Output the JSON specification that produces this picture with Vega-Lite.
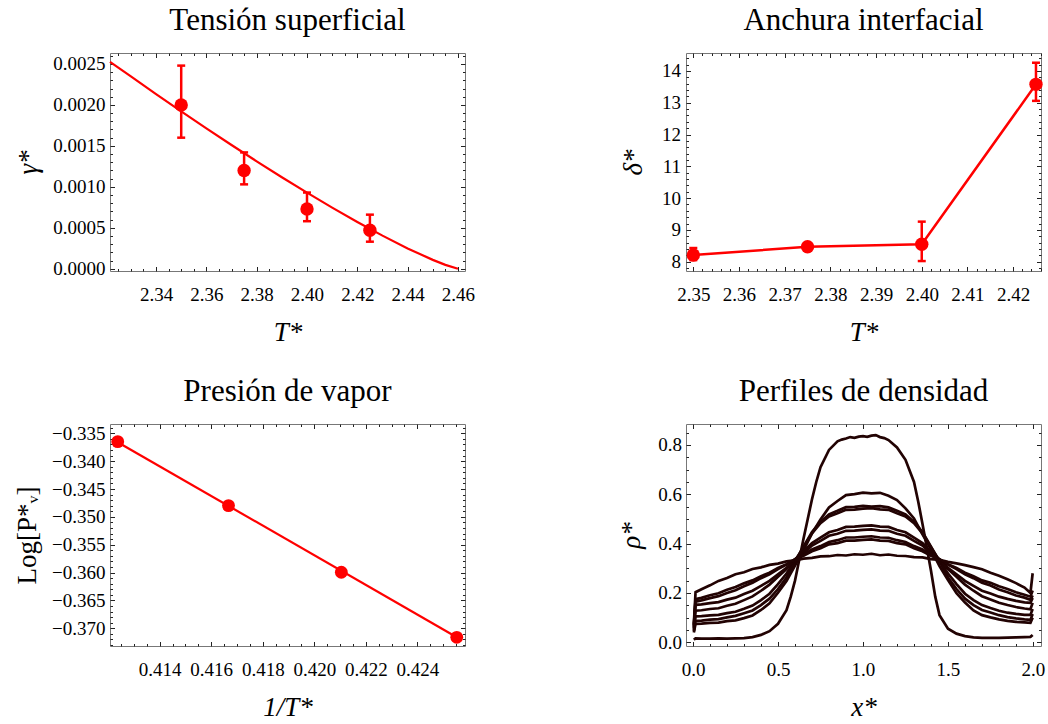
{
"$schema": "https://vega.github.io/schema/vega-lite/v6.json",
"background": "white",
"padding": {"left": 13, "top": 4, "right": 0, "bottom": 0},
"config": {
 "font": "Liberation Serif",
 "view": {"stroke": "#777777", "strokeWidth": 1},
 "title": {"font": "Liberation Serif", "fontSize": 31, "fontWeight": "normal", "color": "#000000", "baseline": "alphabetic", "offset": 16, "frame": "group", "anchor": "middle"},
 "axis": {"labelFont": "Liberation Serif", "labelFontSize": 19, "labelColor": "#000000", "titleFont": "Liberation Serif", "titleFontSize": 27, "titleFontWeight": "normal", "titleColor": "#000000", "tickColor": "#222222", "tickWidth": 1, "domain": false, "grid": false, "labelFlush": false, "labelOverlap": false, "labelExpr": "replace(datum.label, '-', '\u2212')"}
},
"datasets": {
 "gamma": [
  {"T": 2.35, "g": 0.002, "lo": 0.0016, "hi": 0.00248},
  {"T": 2.375, "g": 0.0012, "lo": 0.00103, "hi": 0.00142},
  {"T": 2.4, "g": 0.00073, "lo": 0.00058, "hi": 0.00093},
  {"T": 2.425, "g": 0.00047, "lo": 0.00033, "hi": 0.00066}
 ],
 "gfit": [
  {"T": 2.3217, "g": 0.002525}, {"T": 2.33, "g": 0.002348}, {"T": 2.34, "g": 0.002133}, {"T": 2.35, "g": 0.001921},
  {"T": 2.36, "g": 0.001714}, {"T": 2.37, "g": 0.001511}, {"T": 2.38, "g": 0.001311}, {"T": 2.39, "g": 0.001117},
  {"T": 2.4, "g": 0.000929}, {"T": 2.41, "g": 0.000746}, {"T": 2.42, "g": 0.000571}, {"T": 2.43, "g": 0.000404},
  {"T": 2.44, "g": 0.000248}, {"T": 2.45, "g": 0.000108}, {"T": 2.455, "g": 0.000047}, {"T": 2.46, "g": 0.0}
 ],
 "delta": [
  {"T": 2.35, "d": 8.21}, {"T": 2.375, "d": 8.47}, {"T": 2.4, "d": 8.55}, {"T": 2.425, "d": 13.58}
 ],
 "derr": [
  {"T": 2.35, "lo": 8.05, "hi": 8.43}, {"T": 2.4, "lo": 8.02, "hi": 9.26}, {"T": 2.425, "lo": 13.06, "hi": 14.26}
 ],
 "pv": [
  {"x": 0.41237, "y": -0.3365}, {"x": 0.41667, "y": -0.34798}, {"x": 0.42105, "y": -0.35995}, {"x": 0.42553, "y": -0.37162}
 ],
 "pvfit": [
  {"x": 0.41237, "y": -0.3366}, {"x": 0.42553, "y": -0.3716}
 ],
 "rho": [
  {"c":1,"x":0.005,"y":0.010},{"c":1,"x":0.015,"y":0.016},{"c":1,"x":0.05,"y":0.015},{"c":1,"x":0.1,"y":0.015},{"c":1,"x":0.15,"y":0.016},{"c":1,"x":0.2,"y":0.015},{"c":1,"x":0.25,"y":0.016},{"c":1,"x":0.3,"y":0.017},{"c":1,"x":0.35,"y":0.021},{"c":1,"x":0.4,"y":0.03},{"c":1,"x":0.45,"y":0.045},{"c":1,"x":0.5,"y":0.075},{"c":1,"x":0.55,"y":0.13},{"c":1,"x":0.575,"y":0.185},{"c":1,"x":0.6,"y":0.25},{"c":1,"x":0.625,"y":0.335},{"c":1,"x":0.65,"y":0.42},{"c":1,"x":0.675,"y":0.5},{"c":1,"x":0.7,"y":0.58},{"c":1,"x":0.725,"y":0.65},{"c":1,"x":0.75,"y":0.71},{"c":1,"x":0.8,"y":0.78},{"c":1,"x":0.85,"y":0.815},{"c":1,"x":0.875,"y":0.822},{"c":1,"x":0.9,"y":0.826},{"c":1,"x":0.925,"y":0.832},{"c":1,"x":0.95,"y":0.829},{"c":1,"x":0.975,"y":0.834},{"c":1,"x":1.0,"y":0.836},{"c":1,"x":1.025,"y":0.833},{"c":1,"x":1.05,"y":0.838},{"c":1,"x":1.075,"y":0.84},{"c":1,"x":1.1,"y":0.832},{"c":1,"x":1.125,"y":0.828},{"c":1,"x":1.15,"y":0.82},{"c":1,"x":1.2,"y":0.79},{"c":1,"x":1.25,"y":0.74},{"c":1,"x":1.3,"y":0.65},{"c":1,"x":1.325,"y":0.57},{"c":1,"x":1.35,"y":0.48},{"c":1,"x":1.375,"y":0.385},{"c":1,"x":1.4,"y":0.29},{"c":1,"x":1.425,"y":0.185},{"c":1,"x":1.45,"y":0.11},{"c":1,"x":1.5,"y":0.055},{"c":1,"x":1.55,"y":0.035},{"c":1,"x":1.6,"y":0.025},{"c":1,"x":1.65,"y":0.02},{"c":1,"x":1.7,"y":0.018},{"c":1,"x":1.75,"y":0.018},{"c":1,"x":1.8,"y":0.018},{"c":1,"x":1.85,"y":0.019},{"c":1,"x":1.9,"y":0.02},{"c":1,"x":1.95,"y":0.021},{"c":1,"x":1.985,"y":0.022},{"c":1,"x":1.998,"y":0.03},
  {"c":2,"x":0.005,"y":0.04},{"c":2,"x":0.015,"y":0.075},{"c":2,"x":0.05,"y":0.076},{"c":2,"x":0.1,"y":0.079},{"c":2,"x":0.15,"y":0.08},{"c":2,"x":0.2,"y":0.086},{"c":2,"x":0.25,"y":0.089},{"c":2,"x":0.3,"y":0.098},{"c":2,"x":0.35,"y":0.109},{"c":2,"x":0.4,"y":0.131},{"c":2,"x":0.45,"y":0.158},{"c":2,"x":0.5,"y":0.201},{"c":2,"x":0.55,"y":0.248},{"c":2,"x":0.6,"y":0.311},{"c":2,"x":0.65,"y":0.373},{"c":2,"x":0.7,"y":0.442},{"c":2,"x":0.75,"y":0.498},{"c":2,"x":0.8,"y":0.547},{"c":2,"x":0.85,"y":0.573},{"c":2,"x":0.9,"y":0.597},{"c":2,"x":0.95,"y":0.601},{"c":2,"x":1.0,"y":0.607},{"c":2,"x":1.05,"y":0.604},{"c":2,"x":1.1,"y":0.606},{"c":2,"x":1.15,"y":0.594},{"c":2,"x":1.2,"y":0.577},{"c":2,"x":1.25,"y":0.543},{"c":2,"x":1.3,"y":0.502},{"c":2,"x":1.35,"y":0.438},{"c":2,"x":1.4,"y":0.377},{"c":2,"x":1.45,"y":0.309},{"c":2,"x":1.5,"y":0.252},{"c":2,"x":1.55,"y":0.199},{"c":2,"x":1.6,"y":0.161},{"c":2,"x":1.65,"y":0.129},{"c":2,"x":1.7,"y":0.11},{"c":2,"x":1.75,"y":0.101},{"c":2,"x":1.8,"y":0.093},{"c":2,"x":1.85,"y":0.087},{"c":2,"x":1.9,"y":0.083},{"c":2,"x":1.95,"y":0.081},{"c":2,"x":1.985,"y":0.079},{"c":2,"x":1.998,"y":0.1},
  {"c":3,"x":0.005,"y":0.045},{"c":3,"x":0.015,"y":0.087},{"c":3,"x":0.05,"y":0.088},{"c":3,"x":0.1,"y":0.092},{"c":3,"x":0.15,"y":0.094},{"c":3,"x":0.2,"y":0.101},{"c":3,"x":0.25,"y":0.107},{"c":3,"x":0.3,"y":0.118},{"c":3,"x":0.35,"y":0.129},{"c":3,"x":0.4,"y":0.151},{"c":3,"x":0.45,"y":0.177},{"c":3,"x":0.5,"y":0.216},{"c":3,"x":0.55,"y":0.263},{"c":3,"x":0.6,"y":0.327},{"c":3,"x":0.65,"y":0.388},{"c":3,"x":0.7,"y":0.447},{"c":3,"x":0.75,"y":0.488},{"c":3,"x":0.8,"y":0.519},{"c":3,"x":0.85,"y":0.533},{"c":3,"x":0.9,"y":0.548},{"c":3,"x":0.95,"y":0.549},{"c":3,"x":1.0,"y":0.553},{"c":3,"x":1.05,"y":0.55},{"c":3,"x":1.1,"y":0.552},{"c":3,"x":1.15,"y":0.547},{"c":3,"x":1.2,"y":0.533},{"c":3,"x":1.25,"y":0.519},{"c":3,"x":1.3,"y":0.488},{"c":3,"x":1.35,"y":0.447},{"c":3,"x":1.4,"y":0.388},{"c":3,"x":1.45,"y":0.327},{"c":3,"x":1.5,"y":0.263},{"c":3,"x":1.55,"y":0.216},{"c":3,"x":1.6,"y":0.177},{"c":3,"x":1.65,"y":0.151},{"c":3,"x":1.7,"y":0.131},{"c":3,"x":1.75,"y":0.121},{"c":3,"x":1.8,"y":0.11},{"c":3,"x":1.85,"y":0.102},{"c":3,"x":1.9,"y":0.097},{"c":3,"x":1.95,"y":0.093},{"c":3,"x":1.985,"y":0.091},{"c":3,"x":1.998,"y":0.115},
  {"c":4,"x":0.005,"y":0.05},{"c":4,"x":0.015,"y":0.105},{"c":4,"x":0.05,"y":0.106},{"c":4,"x":0.1,"y":0.109},{"c":4,"x":0.15,"y":0.111},{"c":4,"x":0.2,"y":0.118},{"c":4,"x":0.25,"y":0.124},{"c":4,"x":0.3,"y":0.136},{"c":4,"x":0.35,"y":0.149},{"c":4,"x":0.4,"y":0.171},{"c":4,"x":0.45,"y":0.197},{"c":4,"x":0.5,"y":0.236},{"c":4,"x":0.55,"y":0.279},{"c":4,"x":0.6,"y":0.331},{"c":4,"x":0.65,"y":0.386},{"c":4,"x":0.7,"y":0.442},{"c":4,"x":0.75,"y":0.483},{"c":4,"x":0.8,"y":0.51},{"c":4,"x":0.85,"y":0.523},{"c":4,"x":0.9,"y":0.537},{"c":4,"x":0.95,"y":0.538},{"c":4,"x":1.0,"y":0.542},{"c":4,"x":1.05,"y":0.544},{"c":4,"x":1.1,"y":0.539},{"c":4,"x":1.15,"y":0.537},{"c":4,"x":1.2,"y":0.523},{"c":4,"x":1.25,"y":0.51},{"c":4,"x":1.3,"y":0.483},{"c":4,"x":1.35,"y":0.442},{"c":4,"x":1.4,"y":0.386},{"c":4,"x":1.45,"y":0.331},{"c":4,"x":1.5,"y":0.279},{"c":4,"x":1.55,"y":0.236},{"c":4,"x":1.6,"y":0.197},{"c":4,"x":1.65,"y":0.171},{"c":4,"x":1.7,"y":0.151},{"c":4,"x":1.75,"y":0.139},{"c":4,"x":1.8,"y":0.128},{"c":4,"x":1.85,"y":0.12},{"c":4,"x":1.9,"y":0.115},{"c":4,"x":1.95,"y":0.111},{"c":4,"x":1.985,"y":0.111},{"c":4,"x":1.998,"y":0.135},
  {"c":5,"x":0.005,"y":0.055},{"c":5,"x":0.015,"y":0.128},{"c":5,"x":0.05,"y":0.13},{"c":5,"x":0.1,"y":0.135},{"c":5,"x":0.15,"y":0.138},{"c":5,"x":0.2,"y":0.148},{"c":5,"x":0.25,"y":0.156},{"c":5,"x":0.3,"y":0.171},{"c":5,"x":0.35,"y":0.186},{"c":5,"x":0.4,"y":0.209},{"c":5,"x":0.45,"y":0.234},{"c":5,"x":0.5,"y":0.266},{"c":5,"x":0.55,"y":0.297},{"c":5,"x":0.6,"y":0.336},{"c":5,"x":0.65,"y":0.368},{"c":5,"x":0.7,"y":0.402},{"c":5,"x":0.75,"y":0.424},{"c":5,"x":0.8,"y":0.446},{"c":5,"x":0.85,"y":0.455},{"c":5,"x":0.9,"y":0.468},{"c":5,"x":0.95,"y":0.469},{"c":5,"x":1.0,"y":0.472},{"c":5,"x":1.05,"y":0.474},{"c":5,"x":1.1,"y":0.469},{"c":5,"x":1.15,"y":0.468},{"c":5,"x":1.2,"y":0.455},{"c":5,"x":1.25,"y":0.446},{"c":5,"x":1.3,"y":0.424},{"c":5,"x":1.35,"y":0.402},{"c":5,"x":1.4,"y":0.368},{"c":5,"x":1.45,"y":0.336},{"c":5,"x":1.5,"y":0.297},{"c":5,"x":1.55,"y":0.266},{"c":5,"x":1.6,"y":0.234},{"c":5,"x":1.65,"y":0.209},{"c":5,"x":1.7,"y":0.187},{"c":5,"x":1.75,"y":0.174},{"c":5,"x":1.8,"y":0.16},{"c":5,"x":1.85,"y":0.151},{"c":5,"x":1.9,"y":0.143},{"c":5,"x":1.95,"y":0.137},{"c":5,"x":1.985,"y":0.134},{"c":5,"x":1.998,"y":0.16},
  {"c":6,"x":0.005,"y":0.06},{"c":6,"x":0.015,"y":0.152},{"c":6,"x":0.05,"y":0.154},{"c":6,"x":0.1,"y":0.159},{"c":6,"x":0.15,"y":0.163},{"c":6,"x":0.2,"y":0.173},{"c":6,"x":0.25,"y":0.181},{"c":6,"x":0.3,"y":0.196},{"c":6,"x":0.35,"y":0.209},{"c":6,"x":0.4,"y":0.229},{"c":6,"x":0.45,"y":0.249},{"c":6,"x":0.5,"y":0.276},{"c":6,"x":0.55,"y":0.302},{"c":6,"x":0.6,"y":0.334},{"c":6,"x":0.65,"y":0.36},{"c":6,"x":0.7,"y":0.392},{"c":6,"x":0.75,"y":0.411},{"c":6,"x":0.8,"y":0.432},{"c":6,"x":0.85,"y":0.44},{"c":6,"x":0.9,"y":0.452},{"c":6,"x":0.95,"y":0.453},{"c":6,"x":1.0,"y":0.456},{"c":6,"x":1.05,"y":0.458},{"c":6,"x":1.1,"y":0.453},{"c":6,"x":1.15,"y":0.452},{"c":6,"x":1.2,"y":0.44},{"c":6,"x":1.25,"y":0.432},{"c":6,"x":1.3,"y":0.411},{"c":6,"x":1.35,"y":0.392},{"c":6,"x":1.4,"y":0.36},{"c":6,"x":1.45,"y":0.334},{"c":6,"x":1.5,"y":0.302},{"c":6,"x":1.55,"y":0.276},{"c":6,"x":1.6,"y":0.249},{"c":6,"x":1.65,"y":0.229},{"c":6,"x":1.7,"y":0.209},{"c":6,"x":1.75,"y":0.198},{"c":6,"x":1.8,"y":0.185},{"c":6,"x":1.85,"y":0.176},{"c":6,"x":1.9,"y":0.168},{"c":6,"x":1.95,"y":0.162},{"c":6,"x":1.985,"y":0.16},{"c":6,"x":1.998,"y":0.18},
  {"c":7,"x":0.005,"y":0.065},{"c":7,"x":0.015,"y":0.165},{"c":7,"x":0.05,"y":0.17},{"c":7,"x":0.1,"y":0.179},{"c":7,"x":0.15,"y":0.187},{"c":7,"x":0.2,"y":0.2},{"c":7,"x":0.25,"y":0.211},{"c":7,"x":0.3,"y":0.227},{"c":7,"x":0.35,"y":0.241},{"c":7,"x":0.4,"y":0.26},{"c":7,"x":0.45,"y":0.276},{"c":7,"x":0.5,"y":0.297},{"c":7,"x":0.55,"y":0.315},{"c":7,"x":0.6,"y":0.337},{"c":7,"x":0.65,"y":0.355},{"c":7,"x":0.7,"y":0.376},{"c":7,"x":0.75,"y":0.39},{"c":7,"x":0.8,"y":0.407},{"c":7,"x":0.85,"y":0.414},{"c":7,"x":0.9,"y":0.425},{"c":7,"x":0.95,"y":0.425},{"c":7,"x":1.0,"y":0.428},{"c":7,"x":1.05,"y":0.43},{"c":7,"x":1.1,"y":0.425},{"c":7,"x":1.15,"y":0.424},{"c":7,"x":1.2,"y":0.414},{"c":7,"x":1.25,"y":0.407},{"c":7,"x":1.3,"y":0.39},{"c":7,"x":1.35,"y":0.376},{"c":7,"x":1.4,"y":0.355},{"c":7,"x":1.45,"y":0.337},{"c":7,"x":1.5,"y":0.315},{"c":7,"x":1.55,"y":0.297},{"c":7,"x":1.6,"y":0.276},{"c":7,"x":1.65,"y":0.26},{"c":7,"x":1.7,"y":0.241},{"c":7,"x":1.75,"y":0.23},{"c":7,"x":1.8,"y":0.214},{"c":7,"x":1.85,"y":0.203},{"c":7,"x":1.9,"y":0.19},{"c":7,"x":1.95,"y":0.181},{"c":7,"x":1.985,"y":0.172},{"c":7,"x":1.998,"y":0.19},
  {"c":8,"x":0.005,"y":0.07},{"c":8,"x":0.015,"y":0.175},{"c":8,"x":0.05,"y":0.18},{"c":8,"x":0.1,"y":0.191},{"c":8,"x":0.15,"y":0.199},{"c":8,"x":0.2,"y":0.213},{"c":8,"x":0.25,"y":0.224},{"c":8,"x":0.3,"y":0.239},{"c":8,"x":0.35,"y":0.251},{"c":8,"x":0.4,"y":0.268},{"c":8,"x":0.45,"y":0.282},{"c":8,"x":0.5,"y":0.301},{"c":8,"x":0.55,"y":0.317},{"c":8,"x":0.6,"y":0.336},{"c":8,"x":0.65,"y":0.351},{"c":8,"x":0.7,"y":0.369},{"c":8,"x":0.75,"y":0.381},{"c":8,"x":0.8,"y":0.397},{"c":8,"x":0.85,"y":0.402},{"c":8,"x":0.9,"y":0.412},{"c":8,"x":0.95,"y":0.412},{"c":8,"x":1.0,"y":0.415},{"c":8,"x":1.05,"y":0.417},{"c":8,"x":1.1,"y":0.412},{"c":8,"x":1.15,"y":0.411},{"c":8,"x":1.2,"y":0.402},{"c":8,"x":1.25,"y":0.397},{"c":8,"x":1.3,"y":0.381},{"c":8,"x":1.35,"y":0.369},{"c":8,"x":1.4,"y":0.351},{"c":8,"x":1.45,"y":0.336},{"c":8,"x":1.5,"y":0.317},{"c":8,"x":1.55,"y":0.301},{"c":8,"x":1.6,"y":0.282},{"c":8,"x":1.65,"y":0.268},{"c":8,"x":1.7,"y":0.251},{"c":8,"x":1.75,"y":0.241},{"c":8,"x":1.8,"y":0.227},{"c":8,"x":1.85,"y":0.216},{"c":8,"x":1.9,"y":0.203},{"c":8,"x":1.95,"y":0.193},{"c":8,"x":1.985,"y":0.185},{"c":8,"x":1.998,"y":0.21},
  {"c":9,"x":0.005,"y":0.075},{"c":9,"x":0.015,"y":0.203},{"c":9,"x":0.05,"y":0.215},{"c":9,"x":0.1,"y":0.231},{"c":9,"x":0.15,"y":0.249},{"c":9,"x":0.2,"y":0.261},{"c":9,"x":0.25,"y":0.276},{"c":9,"x":0.3,"y":0.284},{"c":9,"x":0.35,"y":0.297},{"c":9,"x":0.4,"y":0.304},{"c":9,"x":0.45,"y":0.314},{"c":9,"x":0.5,"y":0.319},{"c":9,"x":0.55,"y":0.328},{"c":9,"x":0.6,"y":0.332},{"c":9,"x":0.65,"y":0.339},{"c":9,"x":0.7,"y":0.342},{"c":9,"x":0.75,"y":0.348},{"c":9,"x":0.8,"y":0.349},{"c":9,"x":0.85,"y":0.354},{"c":9,"x":0.9,"y":0.352},{"c":9,"x":0.95,"y":0.357},{"c":9,"x":1.0,"y":0.355},{"c":9,"x":1.05,"y":0.359},{"c":9,"x":1.1,"y":0.353},{"c":9,"x":1.15,"y":0.356},{"c":9,"x":1.2,"y":0.351},{"c":9,"x":1.25,"y":0.35},{"c":9,"x":1.3,"y":0.345},{"c":9,"x":1.35,"y":0.344},{"c":9,"x":1.4,"y":0.337},{"c":9,"x":1.45,"y":0.334},{"c":9,"x":1.5,"y":0.326},{"c":9,"x":1.55,"y":0.32},{"c":9,"x":1.6,"y":0.313},{"c":9,"x":1.65,"y":0.305},{"c":9,"x":1.7,"y":0.296},{"c":9,"x":1.75,"y":0.282},{"c":9,"x":1.8,"y":0.27},{"c":9,"x":1.85,"y":0.256},{"c":9,"x":1.9,"y":0.24},{"c":9,"x":1.95,"y":0.222},{"c":9,"x":1.985,"y":0.2},{"c":9,"x":1.998,"y":0.28}
 ]
},
"columns": 2,
"spacing": {"row": 153, "column": 221},
"bounds": "flush",
"concat": [
 {
  "width": 355, "height": 218,
  "title": {"text": "Tensión superficial"},
  "resolve": {"axis": {"x": "independent", "y": "independent"}},
  "layer": [
   {"data": {"name": "gfit"}, "mark": {"type": "line", "color": "#ff0000", "strokeWidth": 2.2},
    "encoding": {
     "x": {"field": "T", "type": "quantitative", "scale": {"domain": [2.3217, 2.4628], "nice": false, "zero": false},
       "axis": {"orient": "bottom", "values": [2.34, 2.36, 2.38, 2.4, 2.42, 2.44, 2.46], "format": ".2f", "tickSize": -4.5, "labelPadding": 18.5, "title": "T*", "titlePadding": 15, "titleFontStyle": "italic"}},
     "y": {"field": "g", "type": "quantitative", "scale": {"domain": [-0.000028, 0.002634], "nice": false, "zero": false},
       "axis": {"orient": "left", "values": [0, 0.0005, 0.001, 0.0015, 0.002, 0.0025], "format": ".4f", "tickSize": -4.5, "labelPadding": 9.5, "title": "γ*", "titlePadding": 10, "titleFontStyle": "italic"}}
    }},
   {"data": {"name": "gamma"}, "mark": {"type": "rule", "color": "#ff0000", "strokeWidth": 2.5},
    "encoding": {
     "x": {"field": "T", "type": "quantitative", "scale": {"domain": [2.3217, 2.4628], "nice": false, "zero": false},
       "axis": {"orient": "top", "values": [2.34, 2.36, 2.38, 2.4, 2.42, 2.44, 2.46], "tickSize": -4.5, "labels": false, "title": null}},
     "y": {"field": "lo", "type": "quantitative", "scale": {"domain": [-0.000028, 0.002634], "nice": false, "zero": false},
       "axis": {"orient": "right", "values": [0, 0.0005, 0.001, 0.0015, 0.002, 0.0025], "tickSize": -4.5, "labels": false, "title": null}},
     "y2": {"field": "hi"}
    }},
   {"data": {"name": "gamma"}, "mark": {"type": "point", "shape": "M-1,0L1,0", "filled": false, "color": "#ff0000", "strokeWidth": 2.5, "size": 64, "opacity": 1},
    "encoding": {
     "x": {"field": "T", "type": "quantitative", "scale": {"domain": [2.3217, 2.4628], "nice": false, "zero": false},
       "axis": {"orient": "bottom", "values": [2.325, 2.33, 2.335, 2.345, 2.35, 2.355, 2.365, 2.37, 2.375, 2.385, 2.39, 2.395, 2.405, 2.41, 2.415, 2.425, 2.43, 2.435, 2.445, 2.45, 2.455], "tickSize": -2.5, "labels": false, "title": null}},
     "y": {"field": "lo", "type": "quantitative", "scale": {"domain": [-0.000028, 0.002634], "nice": false, "zero": false},
       "axis": {"orient": "left", "values": [0.0001, 0.0002, 0.0003, 0.0004, 0.0006, 0.0007, 0.0008, 0.0009, 0.0011, 0.0012, 0.0013, 0.0014, 0.0016, 0.0017, 0.0018, 0.0019, 0.0021, 0.0022, 0.0023, 0.0024, 0.0026], "tickSize": -2.5, "labels": false, "title": null}}
    }},
   {"data": {"name": "gamma"}, "mark": {"type": "point", "shape": "M-1,0L1,0", "filled": false, "color": "#ff0000", "strokeWidth": 2.5, "size": 64, "opacity": 1},
    "encoding": {
     "x": {"field": "T", "type": "quantitative", "scale": {"domain": [2.3217, 2.4628], "nice": false, "zero": false},
       "axis": {"orient": "top", "values": [2.325, 2.33, 2.335, 2.345, 2.35, 2.355, 2.365, 2.37, 2.375, 2.385, 2.39, 2.395, 2.405, 2.41, 2.415, 2.425, 2.43, 2.435, 2.445, 2.45, 2.455], "tickSize": -2.5, "labels": false, "title": null}},
     "y": {"field": "hi", "type": "quantitative", "scale": {"domain": [-0.000028, 0.002634], "nice": false, "zero": false},
       "axis": {"orient": "right", "values": [0.0001, 0.0002, 0.0003, 0.0004, 0.0006, 0.0007, 0.0008, 0.0009, 0.0011, 0.0012, 0.0013, 0.0014, 0.0016, 0.0017, 0.0018, 0.0019, 0.0021, 0.0022, 0.0023, 0.0024, 0.0026], "tickSize": -2.5, "labels": false, "title": null}}
    }},
   {"data": {"name": "gamma"}, "mark": {"type": "circle", "color": "#ff0000", "size": 180, "opacity": 1},
    "encoding": {
     "x": {"field": "T", "type": "quantitative", "scale": {"domain": [2.3217, 2.4628], "nice": false, "zero": false}, "axis": null},
     "y": {"field": "g", "type": "quantitative", "scale": {"domain": [-0.000028, 0.002634], "nice": false, "zero": false}, "axis": null}
    }}
  ]
 },
 {
  "width": 355, "height": 218,
  "title": {"text": "Anchura interfacial"},
  "resolve": {"axis": {"x": "independent", "y": "independent"}},
  "layer": [
   {"data": {"name": "delta"}, "mark": {"type": "line", "color": "#ff0000", "strokeWidth": 2.5},
    "encoding": {
     "x": {"field": "T", "type": "quantitative", "scale": {"domain": [2.3484, 2.4261], "nice": false, "zero": false},
       "axis": {"orient": "bottom", "values": [2.35, 2.36, 2.37, 2.38, 2.39, 2.4, 2.41, 2.42], "format": ".2f", "tickSize": -4.5, "labelPadding": 18.5, "title": "T*", "titlePadding": 15, "titleFontStyle": "italic"}},
     "y": {"field": "d", "type": "quantitative", "scale": {"domain": [7.707, 14.566], "nice": false, "zero": false},
       "axis": {"orient": "left", "values": [8, 9, 10, 11, 12, 13, 14], "format": "d", "tickSize": -4.5, "labelPadding": 10, "title": "δ*", "titlePadding": 14, "titleFontStyle": "italic"}}
    }},
   {"data": {"name": "derr"}, "mark": {"type": "rule", "color": "#ff0000", "strokeWidth": 2.5},
    "encoding": {
     "x": {"field": "T", "type": "quantitative", "scale": {"domain": [2.3484, 2.4261], "nice": false, "zero": false},
       "axis": {"orient": "top", "values": [2.35, 2.36, 2.37, 2.38, 2.39, 2.4, 2.41, 2.42], "tickSize": -4.5, "labels": false, "title": null}},
     "y": {"field": "lo", "type": "quantitative", "scale": {"domain": [7.707, 14.566], "nice": false, "zero": false},
       "axis": {"orient": "right", "values": [8, 9, 10, 11, 12, 13, 14], "tickSize": -4.5, "labels": false, "title": null}},
     "y2": {"field": "hi"}
    }},
   {"data": {"name": "derr"}, "mark": {"type": "point", "shape": "M-1,0L1,0", "filled": false, "color": "#ff0000", "strokeWidth": 2.5, "size": 64, "opacity": 1},
    "encoding": {
     "x": {"field": "T", "type": "quantitative", "scale": {"domain": [2.3484, 2.4261], "nice": false, "zero": false},
       "axis": {"orient": "bottom", "values": [2.352, 2.354, 2.356, 2.358, 2.362, 2.364, 2.366, 2.368, 2.372, 2.374, 2.376, 2.378, 2.382, 2.384, 2.386, 2.388, 2.392, 2.394, 2.396, 2.398, 2.402, 2.404, 2.406, 2.408, 2.412, 2.414, 2.416, 2.418, 2.422, 2.424, 2.426], "tickSize": -2.5, "labels": false, "title": null}},
     "y": {"field": "lo", "type": "quantitative", "scale": {"domain": [7.707, 14.566], "nice": false, "zero": false},
       "axis": {"orient": "left", "values": [7.8, 8.2, 8.4, 8.6, 8.8, 9.2, 9.4, 9.6, 9.8, 10.2, 10.4, 10.6, 10.8, 11.2, 11.4, 11.6, 11.8, 12.2, 12.4, 12.6, 12.8, 13.2, 13.4, 13.6, 13.8, 14.2, 14.4], "tickSize": -2.5, "labels": false, "title": null}}
    }},
   {"data": {"name": "derr"}, "mark": {"type": "point", "shape": "M-1,0L1,0", "filled": false, "color": "#ff0000", "strokeWidth": 2.5, "size": 64, "opacity": 1},
    "encoding": {
     "x": {"field": "T", "type": "quantitative", "scale": {"domain": [2.3484, 2.4261], "nice": false, "zero": false},
       "axis": {"orient": "top", "values": [2.352, 2.354, 2.356, 2.358, 2.362, 2.364, 2.366, 2.368, 2.372, 2.374, 2.376, 2.378, 2.382, 2.384, 2.386, 2.388, 2.392, 2.394, 2.396, 2.398, 2.402, 2.404, 2.406, 2.408, 2.412, 2.414, 2.416, 2.418, 2.422, 2.424, 2.426], "tickSize": -2.5, "labels": false, "title": null}},
     "y": {"field": "hi", "type": "quantitative", "scale": {"domain": [7.707, 14.566], "nice": false, "zero": false},
       "axis": {"orient": "right", "values": [7.8, 8.2, 8.4, 8.6, 8.8, 9.2, 9.4, 9.6, 9.8, 10.2, 10.4, 10.6, 10.8, 11.2, 11.4, 11.6, 11.8, 12.2, 12.4, 12.6, 12.8, 13.2, 13.4, 13.6, 13.8, 14.2, 14.4], "tickSize": -2.5, "labels": false, "title": null}}
    }},
   {"data": {"name": "delta"}, "mark": {"type": "circle", "color": "#ff0000", "size": 180, "opacity": 1},
    "encoding": {
     "x": {"field": "T", "type": "quantitative", "scale": {"domain": [2.3484, 2.4261], "nice": false, "zero": false}, "axis": null},
     "y": {"field": "d", "type": "quantitative", "scale": {"domain": [7.707, 14.566], "nice": false, "zero": false}, "axis": null}
    }}
  ]
 },
 {
  "width": 355, "height": 222,
  "title": {"text": "Presión de vapor"},
  "resolve": {"axis": {"x": "independent", "y": "independent"}},
  "layer": [
   {"data": {"name": "pvfit"}, "mark": {"type": "line", "color": "#ff0000", "strokeWidth": 2.2},
    "encoding": {
     "x": {"field": "x", "type": "quantitative", "scale": {"domain": [0.41207, 0.42585], "nice": false, "zero": false},
       "axis": {"orient": "bottom", "values": [0.414, 0.416, 0.418, 0.42, 0.422, 0.424], "format": ".3f", "tickSize": -4.5, "labelPadding": 18.5, "title": "1/T*", "titlePadding": 15, "titleFontStyle": "italic"}},
     "y": {"field": "y", "type": "quantitative", "scale": {"domain": [-0.37318, -0.33333], "nice": false, "zero": false},
       "axis": {"orient": "left", "values": [-0.37, -0.365, -0.36, -0.355, -0.35, -0.345, -0.34, -0.335], "format": ".3f", "tickSize": -4.5, "labelPadding": 9.5, "title": "Log[P*ᵥ]", "titlePadding": 10}}
    }},
   {"data": {"name": "pvfit"}, "mark": {"type": "line", "color": "#ff0000", "strokeWidth": 2.2, "opacity": 0},
    "encoding": {
     "x": {"field": "x", "type": "quantitative", "scale": {"domain": [0.41207, 0.42585], "nice": false, "zero": false},
       "axis": {"orient": "top", "values": [0.414, 0.416, 0.418, 0.42, 0.422, 0.424], "tickSize": -4.5, "labels": false, "title": null}},
     "y": {"field": "y", "type": "quantitative", "scale": {"domain": [-0.37318, -0.33333], "nice": false, "zero": false},
       "axis": {"orient": "right", "values": [-0.37, -0.365, -0.36, -0.355, -0.35, -0.345, -0.34, -0.335], "tickSize": -4.5, "labels": false, "title": null}}
    }},
   {"data": {"name": "pvfit"}, "mark": {"type": "line", "color": "#ff0000", "strokeWidth": 2.2, "opacity": 0},
    "encoding": {
     "x": {"field": "x", "type": "quantitative", "scale": {"domain": [0.41207, 0.42585], "nice": false, "zero": false},
       "axis": {"orient": "bottom", "values": [0.4125, 0.413, 0.4135, 0.4145, 0.415, 0.4155, 0.4165, 0.417, 0.4175, 0.4185, 0.419, 0.4195, 0.4205, 0.421, 0.4215, 0.4225, 0.423, 0.4235, 0.4245, 0.425, 0.4255], "tickSize": -2.5, "labels": false, "title": null}},
     "y": {"field": "y", "type": "quantitative", "scale": {"domain": [-0.37318, -0.33333], "nice": false, "zero": false},
       "axis": {"orient": "left", "values": [-0.373, -0.372, -0.371, -0.369, -0.368, -0.367, -0.366, -0.364, -0.363, -0.362, -0.361, -0.359, -0.358, -0.357, -0.356, -0.354, -0.353, -0.352, -0.351, -0.349, -0.348, -0.347, -0.346, -0.344, -0.343, -0.342, -0.341, -0.339, -0.338, -0.337, -0.336, -0.334], "tickSize": -2.5, "labels": false, "title": null}}
    }},
   {"data": {"name": "pv"}, "mark": {"type": "circle", "color": "#ff0000", "size": 165, "opacity": 1},
    "encoding": {
     "x": {"field": "x", "type": "quantitative", "scale": {"domain": [0.41207, 0.42585], "nice": false, "zero": false},
       "axis": {"orient": "top", "values": [0.4125, 0.413, 0.4135, 0.4145, 0.415, 0.4155, 0.4165, 0.417, 0.4175, 0.4185, 0.419, 0.4195, 0.4205, 0.421, 0.4215, 0.4225, 0.423, 0.4235, 0.4245, 0.425, 0.4255], "tickSize": -2.5, "labels": false, "title": null}},
     "y": {"field": "y", "type": "quantitative", "scale": {"domain": [-0.37318, -0.33333], "nice": false, "zero": false},
       "axis": {"orient": "right", "values": [-0.373, -0.372, -0.371, -0.369, -0.368, -0.367, -0.366, -0.364, -0.363, -0.362, -0.361, -0.359, -0.358, -0.357, -0.356, -0.354, -0.353, -0.352, -0.351, -0.349, -0.348, -0.347, -0.346, -0.344, -0.343, -0.342, -0.341, -0.339, -0.338, -0.337, -0.336, -0.334], "tickSize": -2.5, "labels": false, "title": null}}
    }}
  ]
 },
 {
  "width": 355, "height": 222,
  "title": {"text": "Perfiles de densidad"},
  "resolve": {"axis": {"x": "independent", "y": "independent"}},
  "layer": [
   {"data": {"name": "rho"}, "mark": {"type": "line", "color": "#220303", "strokeWidth": 2.7},
    "encoding": {
     "detail": {"field": "c", "type": "nominal"},
     "x": {"field": "x", "type": "quantitative", "scale": {"domain": [-0.0412, 2.0471], "nice": false, "zero": false},
       "axis": {"orient": "bottom", "values": [0, 0.5, 1, 1.5, 2], "format": ".1f", "tickSize": -4.5, "labelPadding": 18.5, "title": "x*", "titlePadding": 15, "titleFontStyle": "italic"}},
     "y": {"field": "y", "type": "quantitative", "scale": {"domain": [-0.015, 0.8851], "nice": false, "zero": false},
       "axis": {"orient": "left", "values": [0, 0.2, 0.4, 0.6, 0.8], "format": ".1f", "tickSize": -4.5, "labelPadding": 9, "title": "ρ*", "titlePadding": 12, "titleFontStyle": "italic"}}
    }},
   {"data": {"name": "rho"}, "mark": {"type": "line", "color": "#220303", "strokeWidth": 2.6, "opacity": 0},
    "encoding": {
     "detail": {"field": "c", "type": "nominal"},
     "x": {"field": "x", "type": "quantitative", "scale": {"domain": [-0.0412, 2.0471], "nice": false, "zero": false},
       "axis": {"orient": "top", "values": [0, 0.5, 1, 1.5, 2], "tickSize": -4.5, "labels": false, "title": null}},
     "y": {"field": "y", "type": "quantitative", "scale": {"domain": [-0.015, 0.8851], "nice": false, "zero": false},
       "axis": {"orient": "right", "values": [0, 0.2, 0.4, 0.6, 0.8], "tickSize": -4.5, "labels": false, "title": null}}
    }},
   {"data": {"name": "rho"}, "mark": {"type": "line", "color": "#220303", "strokeWidth": 2.6, "opacity": 0},
    "encoding": {
     "detail": {"field": "c", "type": "nominal"},
     "x": {"field": "x", "type": "quantitative", "scale": {"domain": [-0.0412, 2.0471], "nice": false, "zero": false},
       "axis": {"orient": "bottom", "values": [0.1, 0.2, 0.3, 0.4, 0.6, 0.7, 0.8, 0.9, 1.1, 1.2, 1.3, 1.4, 1.6, 1.7, 1.8, 1.9], "tickSize": -2.5, "labels": false, "title": null}},
     "y": {"field": "y", "type": "quantitative", "scale": {"domain": [-0.015, 0.8851], "nice": false, "zero": false},
       "axis": {"orient": "left", "values": [0.05, 0.1, 0.15, 0.25, 0.3, 0.35, 0.45, 0.5, 0.55, 0.65, 0.7, 0.75, 0.85], "tickSize": -2.5, "labels": false, "title": null}}
    }},
   {"data": {"name": "rho"}, "mark": {"type": "line", "color": "#220303", "strokeWidth": 2.6, "opacity": 0},
    "encoding": {
     "detail": {"field": "c", "type": "nominal"},
     "x": {"field": "x", "type": "quantitative", "scale": {"domain": [-0.0412, 2.0471], "nice": false, "zero": false},
       "axis": {"orient": "top", "values": [0.1, 0.2, 0.3, 0.4, 0.6, 0.7, 0.8, 0.9, 1.1, 1.2, 1.3, 1.4, 1.6, 1.7, 1.8, 1.9], "tickSize": -2.5, "labels": false, "title": null}},
     "y": {"field": "y", "type": "quantitative", "scale": {"domain": [-0.015, 0.8851], "nice": false, "zero": false},
       "axis": {"orient": "right", "values": [0.05, 0.1, 0.15, 0.25, 0.3, 0.35, 0.45, 0.5, 0.55, 0.65, 0.7, 0.75, 0.85], "tickSize": -2.5, "labels": false, "title": null}}
    }}
  ]
 }
]
}
